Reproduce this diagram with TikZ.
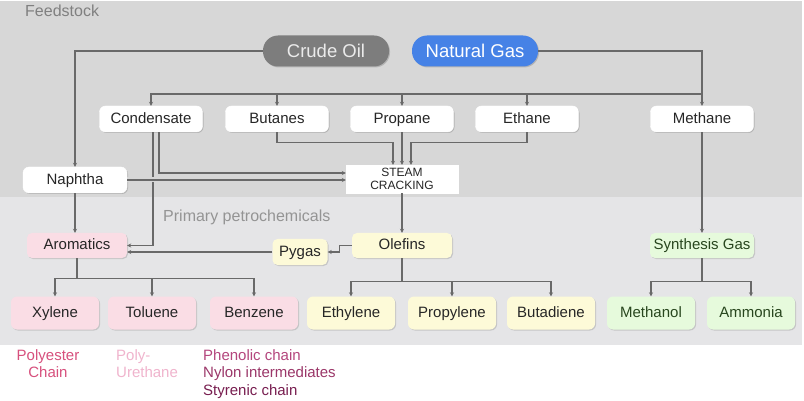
\documentclass[tikz,border=0pt]{standalone}
\usepackage{fontspec}
\setmainfont{Liberation Sans}
\usetikzlibrary{arrows.meta,shadows}

\definecolor{feedbg}{RGB}{215,215,215}
\definecolor{primbg}{RGB}{229,229,231}
\definecolor{linegray}{RGB}{105,105,105}
\definecolor{crudegray}{RGB}{125,125,125}
\definecolor{gasblue}{RGB}{70,130,230}
\definecolor{aropink}{RGB}{250,221,229}
\definecolor{olefyellow}{RGB}{253,250,216}
\definecolor{syngreen}{RGB}{230,250,220}
\definecolor{greentext}{RGB}{40,70,30}
\definecolor{polypink}{RGB}{215,80,125}
\definecolor{urepink}{RGB}{240,180,205}
\definecolor{phenpink}{RGB}{180,70,125}
\definecolor{nylonpink}{RGB}{155,55,105}
\definecolor{styrpurple}{RGB}{120,30,80}

\tikzset{
  txt/.style={font=\fontsize{15}{17}\selectfont, text=black!85, text height=10.8pt, text depth=2pt},
  feedbox/.style={txt, draw=white, fill=white, rounded corners=6pt, minimum width=103pt, minimum height=26pt, inner sep=0pt,
    drop shadow={shadow xshift=1pt, shadow yshift=-1pt, opacity=.3, fill=black!60}},
  pill/.style={font=\fontsize{18.5}{20}\selectfont, text height=13.3pt, text depth=0pt, rounded corners=15pt, minimum width=126pt, minimum height=31pt, inner sep=0pt,
    drop shadow={shadow xshift=1pt, shadow yshift=-1pt, opacity=.3, fill=black!60}},
  primbox/.style={txt, rounded corners=5pt, minimum width=100pt, minimum height=25pt, inner sep=0pt,
    drop shadow={shadow xshift=1pt, shadow yshift=-1pt, opacity=.25, fill=black!60}},
  prodbox/.style={txt, rounded corners=6pt, minimum width=88pt, minimum height=33pt, inner sep=0pt,
    drop shadow={shadow xshift=1pt, shadow yshift=-1pt, opacity=.25, fill=black!60}},
  conn/.style={draw=linegray, line width=1.2pt, -{Stealth[length=4pt,width=4pt]}}
}

\begin{document}
\begin{tikzpicture}[x=1pt,y=-1pt]
\useasboundingbox (0,0) rectangle (804,401);
\fill[white] (0,0) rectangle (804,401);
\fill[feedbg] (0,1) rectangle (802,197);
\fill[primbg] (0,197) rectangle (802,345);

\node [anchor=base west, font=\fontsize{16}{18}\selectfont, text=black!50, inner sep=0pt] (feedlabel) at (25,17) {Feedstock};
\node [anchor=base west, font=\fontsize{16}{18}\selectfont, text=black!42, inner sep=0pt] (primlabel) at (163,222) {Primary petrochemicals};

\node [pill, fill=crudegray, text=white!92!black] (crude) at (326,51) {Crude Oil};
\node [pill, fill=gasblue, text=white] (gas) at (475,51) {Natural Gas};

\node [feedbox] (cond) at (151,119) {Condensate};
\node [feedbox] (butanes) at (277,119) {Butanes};
\node [feedbox] (propane) at (402,119) {Propane};
\node [feedbox] (ethane) at (527,119) {Ethane};
\node [feedbox] (methane) at (702,119) {Methane};
\node [feedbox, minimum width=104pt] (naphtha) at (75,180) {Naphtha};
\node [draw=white, fill=white, minimum width=112pt, minimum height=28pt, inner sep=0pt, align=center,
       font=\fontsize{12}{13}\selectfont, text=black!85] (steam) at (402,179) {STEAM\\CRACKING};

\node [primbox, fill=aropink] (arom) at (77,245.5) {Aromatics};
\node [primbox, fill=olefyellow] (olef) at (402,245.5) {Olefins};
\node [primbox, fill=olefyellow, minimum width=55pt, minimum height=26pt] (pygas) at (300,252) {Pygas};
\node [primbox, fill=syngreen, minimum width=104pt, text=greentext] (syngas) at (702,245.5) {Synthesis Gas};

\node [prodbox, fill=aropink] (xylene) at (55,313) {Xylene};
\node [prodbox, fill=aropink] (toluene) at (152,313) {Toluene};
\node [prodbox, fill=aropink] (benzene) at (254,313) {Benzene};
\node [prodbox, fill=olefyellow] (ethylene) at (351,313) {Ethylene};
\node [prodbox, fill=olefyellow] (propylene) at (452,313) {Propylene};
\node [prodbox, fill=olefyellow] (butadiene) at (551,313) {Butadiene};
\node [prodbox, fill=syngreen, text=greentext] (methanol) at (651,313) {Methanol};
\node [prodbox, fill=syngreen, text=greentext] (ammonia) at (751,313) {Ammonia};

\coordinate (bus) at (702,94);
\draw [conn] (crude.west) -| (naphtha.north);
\draw [conn] (gas.east) -| (methane.north);
\draw [conn] (bus) -| (cond.north);
\foreach \n in {butanes,propane,ethane}
  \draw [conn] (\n.north |- bus) -- (\n.north);

\draw [conn] (butanes.south) -- ++(0,10) -| ([xshift=-9pt]steam.north);
\draw [conn] (propane.south) -- (steam.north);
\draw [conn] (ethane.south) -- ++(0,10) -| ([xshift=9pt]steam.north);
\draw [conn] ([xshift=8pt]cond.south) |- ([yshift=6pt]steam.west);
\draw [conn] ([xshift=2pt]cond.south) |- (arom.east);
\draw [conn, preaction={draw=feedbg, line width=5pt, -}] (naphtha.east) -- (steam.west |- naphtha.east);

\draw [conn] (naphtha.south) -- (naphtha.south |- arom.north);
\draw [conn] (steam.south) -- (olef.north);
\draw [conn] (olef.west) -- ++(-12,0) |- (pygas.east);
\draw [conn] (pygas.west) -- (arom.east |- pygas.west);
\draw [conn] (methane.south) -- (syngas.north);

\foreach \n in {xylene,toluene,benzene}
  \draw [conn] (arom.south) -- ++(0,20) -| (\n.north);
\foreach \n in {ethylene,propylene,butadiene}
  \draw [conn] (olef.south) -- ++(0,23) -| (\n.north);
\foreach \n in {methanol,ammonia}
  \draw [conn] (syngas.south) -- ++(0,23) -| (\n.north);

\node [anchor=north, align=center, inner sep=0pt, font=\fontsize{15}{17}\selectfont, text=polypink] (polyester) at (48,349) {Polyester\\Chain};
\node [anchor=north west, align=left, inner sep=0pt, font=\fontsize{15}{17}\selectfont, text=urepink] (urethane) at (116,349) {Poly-\\Urethane};
\node [anchor=north west, align=left, inner sep=0pt, font=\fontsize{15}{17.5}\selectfont] (benzchains) at (203,349)
  {\textcolor{phenpink}{Phenolic chain}\\\textcolor{nylonpink}{Nylon intermediates}\\\textcolor{styrpurple}{Styrenic chain}};
\end{tikzpicture}
\end{document}
